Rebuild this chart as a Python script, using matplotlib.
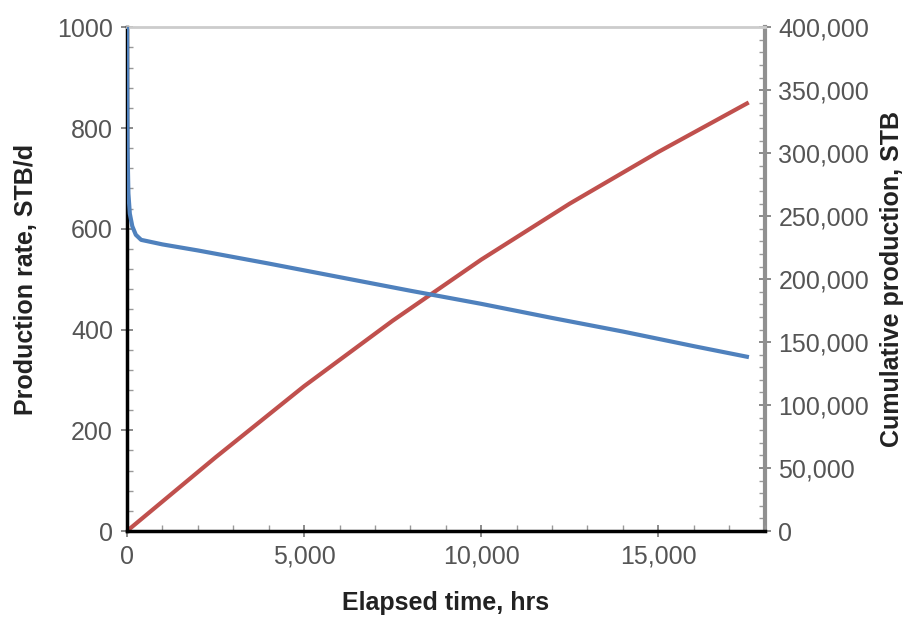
import matplotlib.pyplot as plt
from matplotlib.ticker import MultipleLocator, FuncFormatter

# production rate, STB/d vs elapsed time, hrs
t_rate = [0, 5, 15, 40, 80, 150, 250, 400, 1000, 2000, 4000, 6000, 8000, 10000, 12000, 14000, 16000, 17500]
rate = [1000, 880, 760, 670, 630, 605, 588, 578, 569, 557, 531, 504, 477, 451, 423, 396, 367, 346]

# cumulative production, STB
t_cum = [0, 2500, 5000, 7500, 10000, 12500, 15000, 17500]
cum = [0, 58500, 115000, 167000, 215500, 260000, 301000, 339500]

plt.rcParams['font.family'] = ['Liberation Sans', 'DejaVu Sans']
tick_col = '#555555'

fig = plt.figure(figsize=(9.07, 6.2), dpi=100)
ax = fig.add_axes([0.140, 0.1435, 0.703, 0.8125])
ax2 = ax.twinx()

ax.plot(t_rate, rate, color='#4f81bd', lw=3, zorder=3)
ax2.plot(t_cum, cum, color='#c0504d', lw=3)
ax.set_zorder(ax2.get_zorder() + 1)
ax.patch.set_visible(False)

ax.set_xlim(0, 18000)
ax.set_ylim(0, 1000)
ax2.set_ylim(0, 400000)

ax.xaxis.set_major_locator(MultipleLocator(5000))
ax.xaxis.set_minor_locator(MultipleLocator(1000))
ax.yaxis.set_major_locator(MultipleLocator(200))
ax.yaxis.set_minor_locator(MultipleLocator(40))
ax2.yaxis.set_major_locator(MultipleLocator(50000))
ax2.yaxis.set_minor_locator(MultipleLocator(10000))

comma = FuncFormatter(lambda v, p: f'{int(v):,}')
ax.xaxis.set_major_formatter(comma)
ax2.yaxis.set_major_formatter(comma)

for a in (ax, ax2):
    a.tick_params(which='major', direction='inout', length=8, width=1.2,
                  labelsize=18, labelcolor=tick_col, color='#777777', pad=6)
    a.tick_params(which='minor', direction='in', length=4, width=1, color='#999999')

ax.spines['left'].set_linewidth(2.5)
ax.spines['bottom'].set_linewidth(2.5)
ax.spines['top'].set_color('#cccccc')
ax.spines['top'].set_linewidth(2)
ax.spines['right'].set_visible(False)
ax2.spines['right'].set_color('#909090')
ax2.spines['right'].set_linewidth(3)
ax2.spines['top'].set_visible(False)
ax2.spines['left'].set_visible(False)
ax2.spines['bottom'].set_visible(False)

ax.set_xlabel('Elapsed time, hrs', fontsize=18, fontweight='bold', color='#222222', labelpad=16)
ax.set_ylabel('Production rate, STB/d', fontsize=18, fontweight='bold', color='#222222', labelpad=14)
ax2.set_ylabel('Cumulative production, STB', fontsize=18, fontweight='bold', color='#222222', labelpad=8)

fig.savefig('out.png', dpi=100)
